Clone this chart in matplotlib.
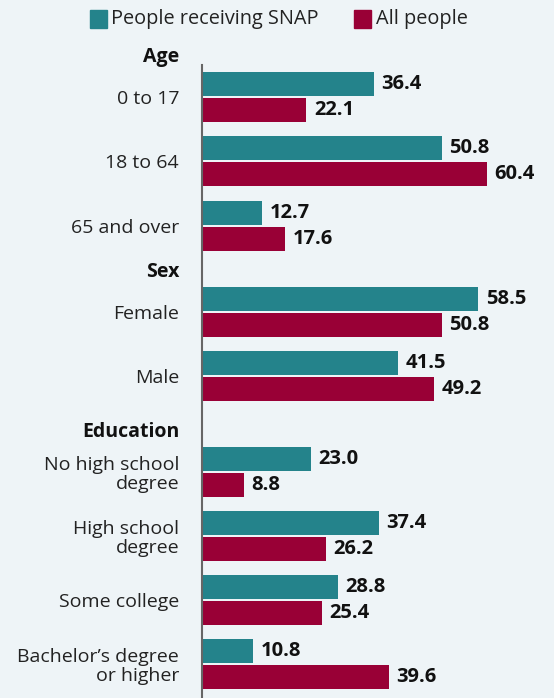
import matplotlib.pyplot as plt
import matplotlib as mpl
from matplotlib.patches import Rectangle

mpl.rcParams["font.family"] = ["Open Sans", "DejaVu Sans"]

# data
categories = ["0 to 17", "18 to 64", "65 and over",
              "Female", "Male",
              "No high school\ndegree", "High school\ndegree",
              "Some college", "Bachelor\u2019s degree\nor higher"]
snap = [36.4, 50.8, 12.7, 58.5, 41.5, 23.0, 37.4, 28.8, 10.8]
all_people = [22.1, 60.4, 17.6, 50.8, 49.2, 8.8, 26.2, 25.4, 39.6]
headers = ["Age", "Sex", "Education"]

# layout (pixel rows, top = 0)
row_y = [97, 161, 226, 312, 376, 472, 536, 600, 664]
header_y = [57, 272, 432]

BG = "#eef4f7"
TEAL = "#24838b"
RED = "#990036"

W, H = 554, 698
fig = plt.figure(figsize=(W / 100, H / 100), dpi=100, facecolor=BG)
x0, ytop = 202, 65
ax = fig.add_axes([x0 / W, 0, (W - x0) / W, (H - ytop) / H], facecolor=BG)
ppu = 4.72
ax.set_xlim(0, (W - x0) / ppu)
ax.set_ylim(H, ytop)

bh = 24
gap = 2
for y, s, a in zip(row_y, snap, all_people):
    ax.barh(y - bh / 2 - gap / 2, s, height=bh, color=TEAL)
    ax.barh(y + bh / 2 + gap / 2, a, height=bh, color=RED)
    ax.text(s + 1.6, y - bh / 2 - gap / 2, f"{s:.1f}", va="center", ha="left",
            fontsize=14.5, fontweight="bold", color="#111111")
    ax.text(a + 1.6, y + bh / 2 + gap / 2, f"{a:.1f}", va="center", ha="left",
            fontsize=14.5, fontweight="bold", color="#111111")

ax.set_yticks(row_y)
ax.set_yticklabels(categories, fontsize=14, color="#222222", linespacing=1.05)
ax.tick_params(axis="y", length=0, pad=16.5)
ax.set_xticks([])
for sp in ["top", "right", "bottom"]:
    ax.spines[sp].set_visible(False)
ax.spines["left"].set_color("#666666")
ax.spines["left"].set_linewidth(1.5)

for h, y in zip(headers, header_y):
    fig.text(179 / W, 1 - y / H, h, ha="right", va="center", fontsize=14,
             fontweight="bold", color="#111111")

# legend
leg_y = 1 - 19 / H
fig.patches.append(Rectangle((90 / W, 1 - 28 / H), 17 / W, 18 / H, color=TEAL,
                             transform=fig.transFigure))
fig.text(111 / W, leg_y, "People receiving SNAP", va="center", ha="left",
         fontsize=14.3, color="#222222")
fig.patches.append(Rectangle((354 / W, 1 - 28 / H), 17 / W, 18 / H, color=RED,
                             transform=fig.transFigure))
fig.text(376 / W, leg_y, "All people", va="center", ha="left",
         fontsize=14.3, color="#222222")

fig.savefig("out.png", dpi=100, facecolor=BG)
